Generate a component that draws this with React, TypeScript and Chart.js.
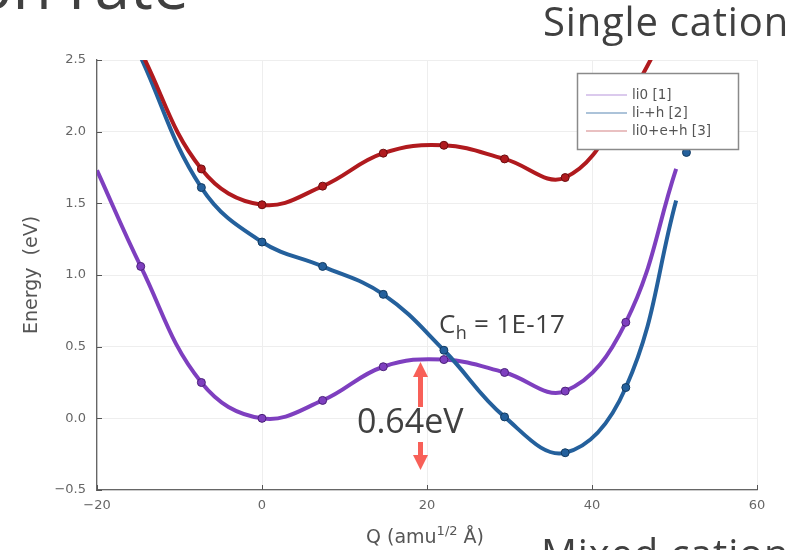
import React, { useEffect, useRef } from "react";
import { Chart, registerables } from "chart.js";

Chart.register(...registerables);

// ---- data ----
const seriesLabels = ["li0 [1]", "li-+h [2]", "li0+e+h [3]"];
const qMarkers = [-14.7, -7.35, 0, 7.35, 14.7, 22.05, 29.4, 36.75, 44.1, 51.45];

const li0Markers = [1.06, 0.25, 0.0, 0.125, 0.36, 0.41, 0.32, 0.19, 0.67, null];
const lihMarkers = [null, 1.61, 1.23, 1.06, 0.865, 0.475, 0.01, -0.24, 0.215, 1.855];
const li0ehMarkers = [null, 1.74, 1.49, 1.62, 1.85, 1.905, 1.81, 1.68, 2.2, null];

const li0CurveQ = [-20, -14.7, -7.35, 0, 7.35, 14.7, 22.05, 29.4, 36.75, 44.1, 50.2];
const li0CurveE = [1.73, 1.06, 0.25, 0.0, 0.125, 0.36, 0.41, 0.32, 0.19, 0.67, 1.74];
const lihCurveQ = [-14.7, -7.35, 0, 7.35, 14.7, 22.05, 29.4, 36.75, 44.1, 50.2];
const lihCurveE = [2.52, 1.61, 1.23, 1.06, 0.865, 0.475, 0.01, -0.24, 0.215, 1.52];
const li0ehCurveQ = [-14.7, -7.35, 0, 7.35, 14.7, 22.05, 29.4, 36.75, 44.1, 51.45];
const li0ehCurveE = [2.56, 1.74, 1.49, 1.62, 1.85, 1.905, 1.81, 1.68, 2.2, 3.0];

const xTicks = [-20, 0, 20, 40, 60];
const yTicks = [-0.5, 0.0, 0.5, 1.0, 1.5, 2.0, 2.5];

const lineColors = ["#7e3fbf", "#24609c", "#b01a1e"];
const markerBorders = ["#4a2178", "#123a60", "#6b0e10"];
const legendLineColors = ["rgba(126,63,191,0.55)", "rgba(36,96,156,0.75)", "rgba(176,26,30,0.55)"];

const toPts = (xs: number[], ys: (number | null)[]) =>
  xs.map((x, i) => ({ x, y: ys[i] })).filter((p) => p.y !== null) as { x: number; y: number }[];

const fmt = (v: number, d: number) => {
  const s = v.toFixed(d);
  return s.startsWith("-") ? "\u2212" + s.slice(1) : s;
};

const innerTicksPlugin = {
  id: "innerTicks",
  afterDraw(chart: any) {
    const { ctx, chartArea, scales } = chart;
    ctx.save();
    ctx.strokeStyle = "#555";
    ctx.lineWidth = 1;
    ctx.beginPath();
    yTicks.forEach((t) => {
      const y = Math.round(scales.y.getPixelForValue(t)) + 0.5;
      ctx.moveTo(chartArea.left, y);
      ctx.lineTo(chartArea.left + 5, y);
    });
    xTicks.forEach((t) => {
      const x = Math.round(scales.x.getPixelForValue(t)) + 0.5;
      ctx.moveTo(x, chartArea.bottom);
      ctx.lineTo(x, chartArea.bottom - 5);
    });
    ctx.stroke();
    ctx.restore();
  },
};

const floatLegendPlugin = {
  id: "floatLegend",
  afterDatasetsDraw(chart: any) {
    const { ctx, chartArea } = chart;
    const w = 161;
    const h = 76;
    const x0 = chartArea.right - 19 - w;
    const y0 = chartArea.top + 13;
    ctx.save();
    ctx.fillStyle = "#ffffff";
    ctx.fillRect(x0, y0, w, h);
    ctx.strokeStyle = "#8a8a8a";
    ctx.lineWidth = 1.5;
    ctx.strokeRect(x0 + 0.5, y0 + 0.5, w, h);
    ctx.font = "13.5px 'DejaVu Sans'";
    ctx.textBaseline = "middle";
    seriesLabels.forEach((lab, i) => {
      const yy = y0 + 22 + i * 18;
      ctx.strokeStyle = legendLineColors[i];
      ctx.lineWidth = 1.2;
      ctx.beginPath();
      ctx.moveTo(x0 + 9, yy);
      ctx.lineTo(x0 + 50, yy);
      ctx.stroke();
      ctx.fillStyle = "#555";
      ctx.fillText(lab, x0 + 55, yy);
    });
    ctx.restore();
  },
};

export default function App() {
  const ref = useRef<HTMLCanvasElement | null>(null);

  useEffect(() => {
    if (!ref.current) return;
    const curves = [
      toPts(li0CurveQ, li0CurveE),
      toPts(lihCurveQ, lihCurveE),
      toPts(li0ehCurveQ, li0ehCurveE),
    ];
    const markers = [
      toPts(qMarkers, li0Markers),
      toPts(qMarkers, lihMarkers),
      toPts(qMarkers, li0ehMarkers),
    ];
    const lineSets = curves.map((d, i) => ({
      label: seriesLabels[i],
      data: d,
      showLine: true,
      borderColor: lineColors[i],
      backgroundColor: lineColors[i],
      borderWidth: 4,
      pointRadius: 0,
      tension: 0.4,
      clip: 0,
      order: 6 - i,
    }));
    const markerSets = markers.map((d, i) => ({
      label: seriesLabels[i] + " pts",
      data: d,
      showLine: false,
      pointRadius: 4,
      pointBorderWidth: 1,
      pointBackgroundColor: lineColors[i],
      pointBorderColor: markerBorders[i],
      clip: 0,
      order: 3 - i,
    }));

    const chart = new Chart(ref.current, {
      type: "scatter",
      data: { datasets: [...lineSets, ...markerSets] as any },
      options: {
        animation: false,
        responsive: false,
        layout: { padding: { left: 0, top: 60, right: 43, bottom: 0 } },
        plugins: { legend: { display: false }, tooltip: { enabled: false } },
        scales: {
          x: {
            type: "linear",
            min: -20,
            max: 60,
            afterFit: (s: any) => {
              s.height = 60;
            },
            afterBuildTicks: (s: any) => {
              s.ticks = xTicks.map((v) => ({ value: v }));
            },
            ticks: {
              font: { family: "'DejaVu Sans'", size: 13 },
              color: "#666",
              padding: 8,
              maxRotation: 0,
              callback: (v: any) => fmt(Number(v), 0),
            },
            grid: { color: "#eeeeee", lineWidth: 1, drawTicks: false },
            border: { display: true, color: "#666", width: 1.3 },
          },
          y: {
            type: "linear",
            min: -0.5,
            max: 2.5,
            afterFit: (s: any) => {
              s.width = 97;
            },
            afterBuildTicks: (s: any) => {
              s.ticks = yTicks.map((v) => ({ value: v }));
            },
            ticks: {
              font: { family: "'DejaVu Sans'", size: 13 },
              color: "#666",
              padding: 11,
              callback: (v: any) => fmt(Number(v), 1),
            },
            grid: { color: "#eeeeee", lineWidth: 1, drawTicks: false },
            border: { display: true, color: "#666", width: 1.3 },
            title: {
              display: true,
              text: "Energy  (eV)",
              color: "#555",
              font: { family: "'DejaVu Sans'", size: 19 },
              padding: { top: 21, bottom: 0 },
            },
          },
        },
      },
      plugins: [innerTicksPlugin, floatLegendPlugin],
    });
    return () => chart.destroy();
  }, []);

  const slideFont = "'Open Sans', sans-serif";
  const dark = "#404040";
  const coral = "#f86058";

  return (
    <div style={{ position: "absolute", left: 0, top: 0, width: 800, height: 550, overflow: "hidden", background: "#fff" }}>
      <canvas ref={ref} width={800} height={550} style={{ position: "absolute", left: 0, top: 0 }} />
      <div style={{ position: "absolute", left: -26, top: -47, fontFamily: slideFont, fontSize: 64, lineHeight: 1, color: dark, whiteSpace: "nowrap" }}>
        on rate
      </div>
      <div style={{ position: "absolute", left: 543, top: 1, fontFamily: slideFont, fontSize: 40, letterSpacing: 0.8, lineHeight: 1, color: dark, whiteSpace: "nowrap" }}>
        Single cation
      </div>
      <div style={{ position: "absolute", left: 541, top: 533, fontFamily: slideFont, fontSize: 40, letterSpacing: 0.8, lineHeight: 1, color: dark, whiteSpace: "nowrap" }}>
        Mixed cation
      </div>
      <div style={{ position: "absolute", left: 325, width: 200, textAlign: "center", top: 527, fontFamily: "'DejaVu Sans', sans-serif", fontSize: 19, lineHeight: 1, color: "#555", whiteSpace: "nowrap" }}>
        Q (amu<sup style={{ fontSize: 13, verticalAlign: "8px", lineHeight: 0 }}>1/2</sup> Å)
      </div>
      <div style={{ position: "absolute", left: 439, top: 310, fontFamily: slideFont, fontSize: 26, letterSpacing: 0.3, lineHeight: 1, color: dark, whiteSpace: "nowrap" }}>
        C<sub style={{ fontSize: 18, verticalAlign: "-6px", lineHeight: 0 }}>h</sub> = 1E-17
      </div>
      <div style={{ position: "absolute", left: 357, top: 403, fontFamily: slideFont, fontSize: 34, lineHeight: 1, color: dark, whiteSpace: "nowrap" }}>
        0.64eV
      </div>
      <svg width={800} height={550} style={{ position: "absolute", left: 0, top: 0, pointerEvents: "none" }}>
        <rect x={418} y={375} width={5} height={32} fill={coral} />
        <polygon points="413,377 428,377 420.5,362" fill={coral} />
        <rect x={418} y={442} width={5} height={14} fill={coral} />
        <polygon points="413,455 428,455 420.5,470" fill={coral} />
      </svg>
    </div>
  );
}
